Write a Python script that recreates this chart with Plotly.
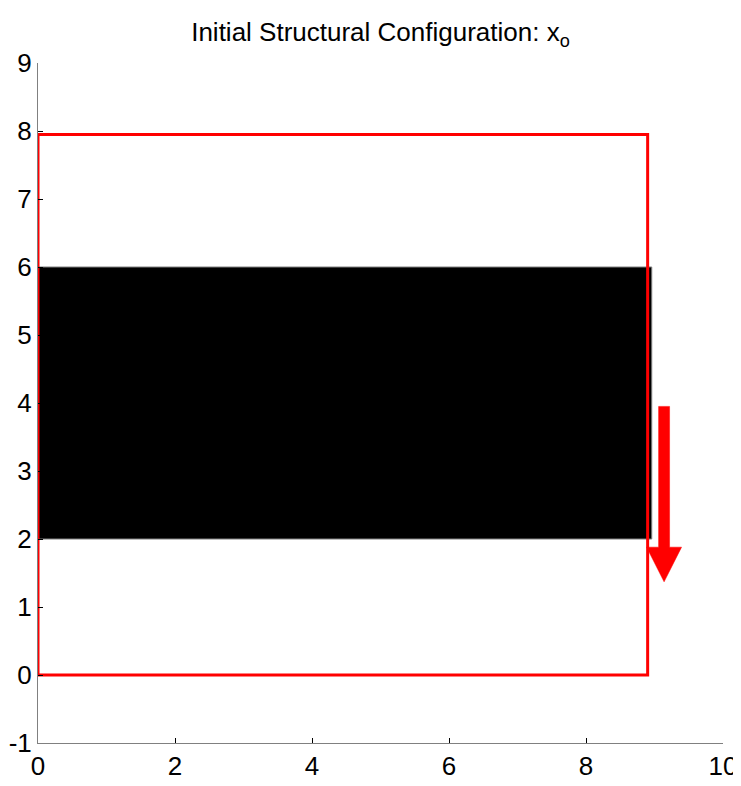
import plotly.graph_objects as go

# Data
domain_x = [0.0, 8.9]        # red design-domain outline, x extent
domain_y = [0.0, 7.95]       # red design-domain outline, y extent
block_x = [0.0, 8.96]        # black structural block, x extent
block_y = [2.0, 6.0]         # black structural block, y extent
load_x = 9.14                # load arrow position
load_y_start = 3.95          # arrow tail
load_y_end = 1.37            # arrow tip
x_ticks = [0, 2, 4, 6, 8, 10]
y_ticks = [-1, 0, 1, 2, 3, 4, 5, 6, 7, 8, 9]

FONT = "Liberation Sans, Arial, sans-serif"

# page body has an 8px default margin; size the figure to compensate
W, H = 733, 778
ML, MR, MT, MB = 30, 18, 55, 43

def rect(xs, ys):
    x0, x1 = xs
    y0, y1 = ys
    return [x0, x1, x1, x0, x0], [y0, y0, y1, y1, y0]

fig = go.Figure()

bx, by = rect(block_x, block_y)
fig.add_trace(go.Scatter(x=bx, y=by, mode="lines", fill="toself",
                         fillcolor="black", line=dict(color="#7f7f7f", width=1),
                         hoverinfo="skip", showlegend=False))

dx, dy = rect(domain_x, domain_y)
fig.add_trace(go.Scatter(x=dx, y=dy, mode="lines",
                         line=dict(color="red", width=3),
                         hoverinfo="skip", showlegend=False))

# Arrow polygon built from load values
shaft_hw = 0.08
head_hw = 0.255
head_len = 0.51
head_base = load_y_end + head_len
ax = [load_x - shaft_hw, load_x + shaft_hw, load_x + shaft_hw, load_x + head_hw,
      load_x, load_x - head_hw, load_x - shaft_hw, load_x - shaft_hw]
ay = [load_y_start, load_y_start, head_base, head_base,
      load_y_end, head_base, head_base, load_y_start]
fig.add_trace(go.Scatter(x=ax, y=ay, mode="lines", fill="toself",
                         fillcolor="red", line=dict(color="red", width=0.5),
                         hoverinfo="skip", showlegend=False))

fig.update_layout(
    width=W, height=H,
    margin=dict(l=ML, r=MR, t=MT, b=MB, autoexpand=False),
    plot_bgcolor="white", paper_bgcolor="white",
    font=dict(family=FONT, size=25, color="black"),
    title=dict(text="Initial Structural Configuration: x<sub>o</sub>",
               x=(ML + (W - MR)) / 2 / W, xanchor="center",
               y=1 - 24 / H, yanchor="middle", yref="container",
               font=dict(family=FONT, size=26, color="black")),
    xaxis=dict(range=[0, 10], tickvals=x_ticks, ticktext=[str(t) for t in x_ticks],
               showgrid=False, zeroline=False, showline=True, linecolor="#808080",
               linewidth=1, ticks="inside", ticklen=5, tickcolor="black",
               automargin=False, tickfont=dict(family=FONT, size=26)),
    yaxis=dict(range=[-1, 9], tickvals=y_ticks, ticktext=[str(t) for t in y_ticks],
               showgrid=False, zeroline=False, showline=True, linecolor="#808080",
               linewidth=1, ticks="inside", ticklen=5, tickcolor="black",
               automargin=False, tickfont=dict(family=FONT, size=26)),
)

fig.write_html("out.html")
